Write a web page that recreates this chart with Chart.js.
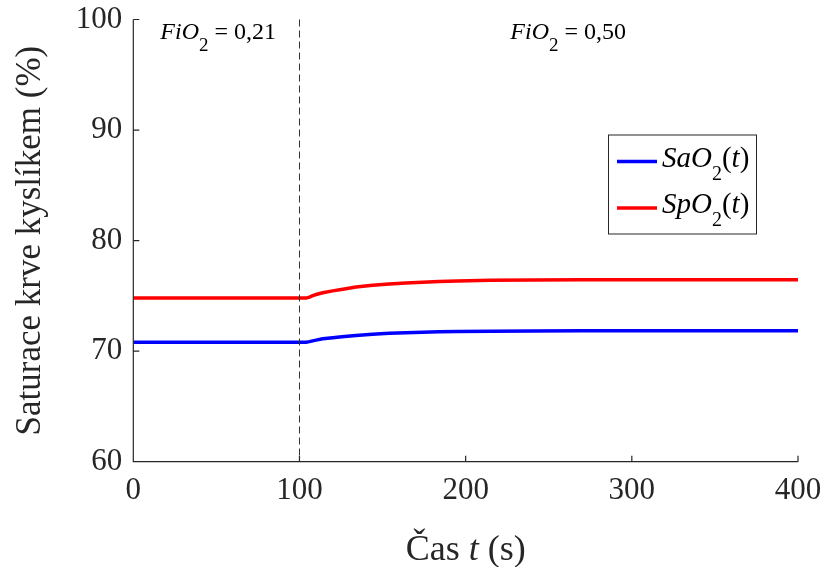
<!DOCTYPE html>
<html>
<head>
<meta charset="utf-8">
<script src="https://cdn.jsdelivr.net/npm/chart.js@4/dist/chart.umd.min.js"></script>
<style>
  html, body { margin: 0; padding: 0; background: #ffffff; }
  #wrap { width: 824px; height: 567px; }
</style>
</head>
<body>
<div id="wrap"><canvas id="c" width="824" height="567"></canvas></div>
<script>
// Time axis (s) and oxygen saturation (%) of arterial blood and pulse oximetry
const timeS = [0, 100, 104, 106, 108, 110, 114, 120, 127, 134, 144, 154, 164, 174, 184, 195, 215, 240, 270, 300, 350, 400];
const sao2  = [70.8, 70.8, 70.8, 70.86, 70.93, 71.0, 71.12, 71.22, 71.33, 71.42, 71.53, 71.61, 71.67, 71.72, 71.75, 71.78, 71.80, 71.83, 71.85, 71.85, 71.85, 71.85];
const spo2  = [74.8, 74.8, 74.8, 74.88, 75.02, 75.12, 75.28, 75.45, 75.63, 75.80, 75.96, 76.08, 76.17, 76.24, 76.30, 76.35, 76.41, 76.43, 76.45, 76.45, 76.45, 76.45];

const xTicks = [0, 100, 200, 300, 400];
const yTicks = [60, 70, 80, 90, 100];
const switchTime = 100;

const seriesNames = [
  [{ t: 'SaO', it: true }, { t: '2', sub: true }, { t: '(' }, { t: 't', it: true }, { t: ')' }],
  [{ t: 'SpO', it: true }, { t: '2', sub: true }, { t: '(' }, { t: 't', it: true }, { t: ')' }]
];
const seriesColors = ['#0000ff', '#ff0000'];
const phaseLabels = [
  [{ t: 'FiO', it: true }, { t: '2', sub: true }, { t: ' = 0,21' }],
  [{ t: 'FiO', it: true }, { t: '2', sub: true }, { t: ' = 0,50' }]
];
const xTitle = [{ t: 'Čas ' }, { t: 't', it: true }, { t: ' (s)' }];
const yTitle = 'Saturace krve kyslíkem (%)';

const FONT = "'Liberation Serif', 'Times New Roman', serif";
const AXIS = '#262626';
Chart.defaults.font.family = FONT;

function toPoints(xs, ys) { return xs.map((x, i) => ({ x: x, y: ys[i] })); }

// Draws a run of text pieces (italic / subscript) starting at x on baseline y
function drawRich(ctx, parts, x, y, size, subSize, subDrop) {
  ctx.textBaseline = 'alphabetic';
  ctx.textAlign = 'left';
  let cx = x;
  for (const p of parts) {
    const s = p.sub ? subSize : size;
    ctx.font = (p.it ? 'italic ' : '') + s + 'px ' + FONT;
    ctx.fillText(p.t, cx, p.sub ? y + subDrop : y);
    cx += ctx.measureText(p.t).width;
  }
  return cx - x;
}
function richWidth(ctx, parts, size, subSize) {
  let w = 0;
  for (const p of parts) {
    const s = p.sub ? subSize : size;
    ctx.font = (p.it ? 'italic ' : '') + s + 'px ' + FONT;
    w += ctx.measureText(p.t).width;
  }
  return w;
}

const decor = {
  id: 'decor',
  afterDatasetsDraw(chart) {
    const ctx = chart.ctx;
    const a = chart.chartArea;
    const xs = chart.scales.x, ys = chart.scales.y;
    ctx.save();

    // phase boundary
    const bx = Math.round(xs.getPixelForValue(switchTime)) + 0.5;
    ctx.strokeStyle = '#333333';
    ctx.lineWidth = 1;
    ctx.setLineDash([7, 4]);
    ctx.beginPath();
    ctx.moveTo(bx, a.top);
    ctx.lineTo(bx, a.bottom);
    ctx.stroke();
    ctx.setLineDash([]);

    // axis lines with inward ticks
    ctx.strokeStyle = AXIS;
    ctx.lineWidth = 1.2;
    ctx.beginPath();
    ctx.moveTo(a.left, a.top);
    ctx.lineTo(a.left, a.bottom);
    ctx.lineTo(a.right, a.bottom);
    for (const v of xTicks) {
      const px = xs.getPixelForValue(v);
      ctx.moveTo(px, a.bottom);
      ctx.lineTo(px, a.bottom - 6);
    }
    for (const v of yTicks) {
      const py = ys.getPixelForValue(v);
      ctx.moveTo(a.left, py);
      ctx.lineTo(a.left + 6, py);
    }
    ctx.stroke();

    // phase labels
    ctx.fillStyle = '#000000';
    drawRich(ctx, phaseLabels[0], a.left + 27, a.top + 19, 24, 19, 12);
    drawRich(ctx, phaseLabels[1], a.left + 377, a.top + 19, 24, 19, 12);

    // legend
    const lx = a.right - 190, ly = a.top + 115;
    const lw = 148, lh = 99;
    ctx.fillStyle = '#ffffff';
    ctx.fillRect(lx, ly, lw, lh);
    ctx.strokeStyle = '#262626';
    ctx.lineWidth = 1;
    ctx.strokeRect(lx + 0.5, ly + 0.5, lw, lh);
    for (let i = 0; i < seriesNames.length; i++) {
      const rowY = ly + 27 + i * 46.5;
      ctx.strokeStyle = seriesColors[i];
      ctx.lineWidth = 3.5;
      ctx.beginPath();
      ctx.moveTo(lx + 9, rowY);
      ctx.lineTo(lx + 49, rowY);
      ctx.stroke();
      ctx.fillStyle = '#000000';
      drawRich(ctx, seriesNames[i], lx + 54, rowY + 5, 29, 20, 13);
    }

    // x axis title
    ctx.fillStyle = AXIS;
    const tw = richWidth(ctx, xTitle, 36, 36);
    drawRich(ctx, xTitle, (a.left + a.right) / 2 - tw / 2, 560, 36, 36, 0);
    ctx.restore();
  }
};

new Chart(document.getElementById('c'), {
  type: 'line',
  data: {
    datasets: [
      { label: 'SaO2(t)', data: toPoints(timeS, sao2), borderColor: seriesColors[0], borderWidth: 3.5, pointRadius: 0, tension: 0, fill: false },
      { label: 'SpO2(t)', data: toPoints(timeS, spo2), borderColor: seriesColors[1], borderWidth: 3.5, pointRadius: 0, tension: 0, fill: false }
    ]
  },
  options: {
    responsive: false,
    animation: false,
    devicePixelRatio: 1,
    layout: { padding: { top: 19.5, right: 26, bottom: 0, left: 0 } },
    plugins: { legend: { display: false }, tooltip: { enabled: false } },
    scales: {
      x: {
        type: 'linear', min: 0, max: 400,
        afterBuildTicks(s) { s.ticks = xTicks.map(v => ({ value: v })); },
        ticks: { color: AXIS, font: { family: FONT, size: 31 }, padding: 11, maxRotation: 0 },
        grid: { display: false, drawTicks: false },
        border: { display: false },
        afterFit(s) { s.height = 105.3; s.paddingLeft = 0; s.paddingRight = 0; }
      },
      y: {
        type: 'linear', min: 60, max: 100,
        afterBuildTicks(s) { s.ticks = yTicks.map(v => ({ value: v })); },
        ticks: { color: AXIS, font: { family: FONT, size: 31 }, padding: 11 },
        grid: { display: false, drawTicks: false },
        border: { display: false },
        title: { display: true, text: yTitle, color: AXIS, font: { family: FONT, size: 35 }, padding: { top: 10, bottom: 0 } },
        afterFit(s) { s.width = 133.3; s.paddingTop = 0; s.paddingBottom = 0; }
      }
    }
  },
  plugins: [decor]
});
</script>
</body>
</html>
